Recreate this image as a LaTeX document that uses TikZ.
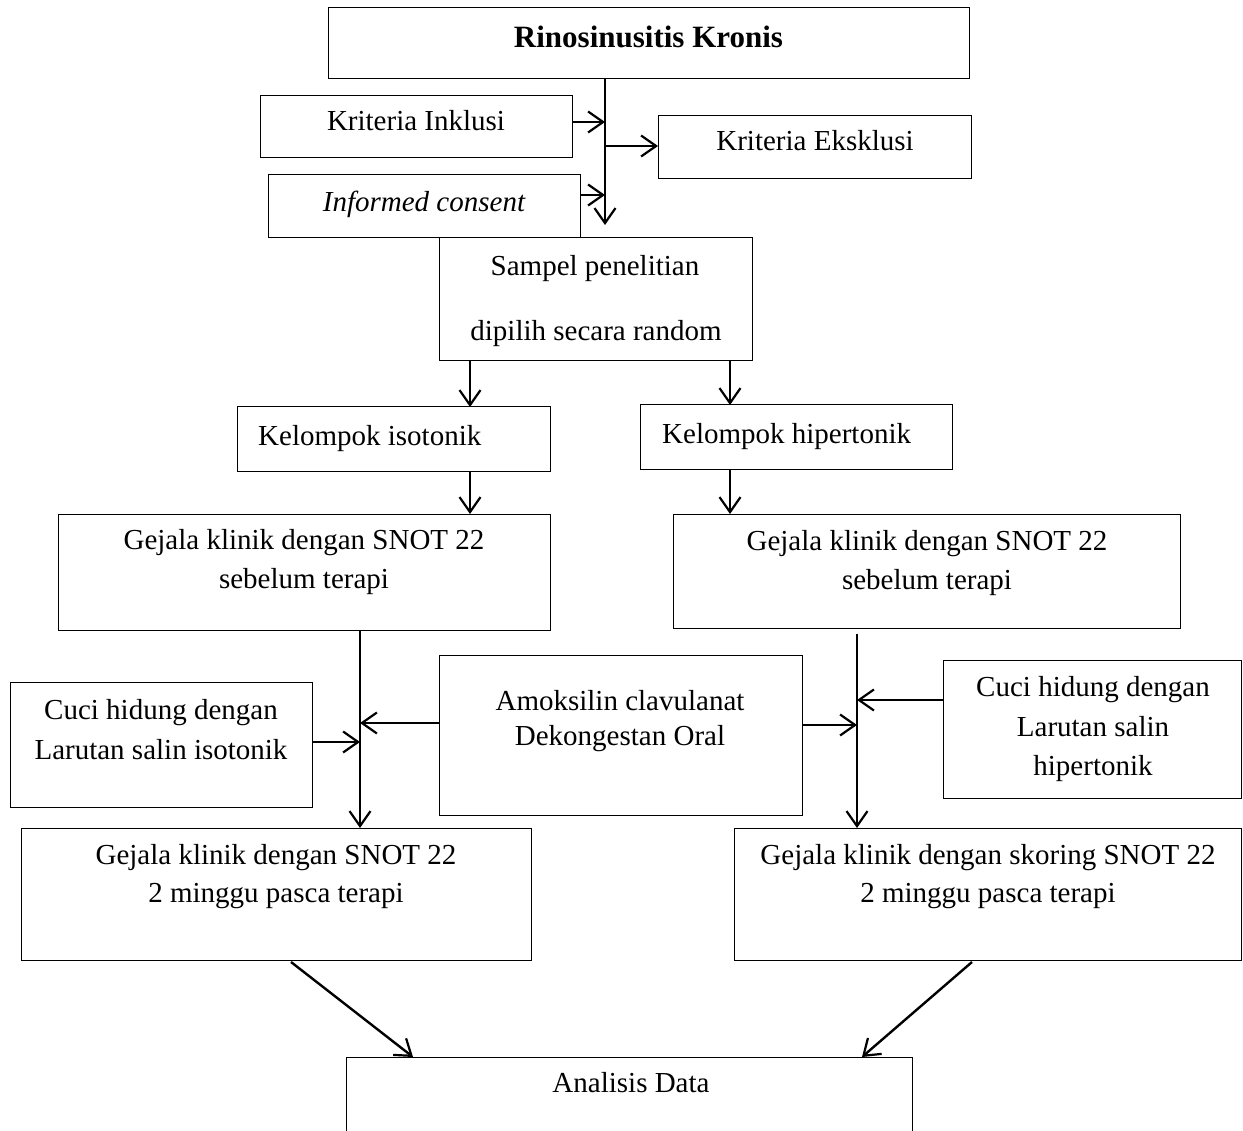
\documentclass[tikz,border=0pt]{standalone}
\usepackage{fontspec}
\setmainfont{Liberation Serif}
\usetikzlibrary{arrows.meta}
\begin{document}
\begin{tikzpicture}[x=1pt,y=-1pt,
  box/.style={draw, line width=1pt, inner sep=0pt, outer sep=0pt},
  txt/.style={anchor=base, inner sep=0pt, font=\fontsize{29}{35}\selectfont},
  txtl/.style={anchor=base west, inner sep=0pt, font=\fontsize{29}{35}\selectfont},
  arr/.style={line width=2.4pt, -{Straight Barb[length=15pt,width=21pt,line width=2.2pt]}}]
\useasboundingbox (0,0) rectangle (1243,1131);
\clip (0,0) rectangle (1243,1131);
% boxes
\node[box, minimum width=641pt, minimum height=71pt] (rk) at (648.5,43.5) {};
\node[box, minimum width=312pt, minimum height=62pt] (ki) at (416,127) {};
\node[box, minimum width=313pt, minimum height=63pt] (ke) at (814.5,147.5) {};
\node[box, minimum width=312pt, minimum height=63pt] (ic) at (424,206.5) {};
\node[box, minimum width=313pt, minimum height=123pt] (sp) at (595.5,299.5) {};
\node[box, minimum width=313pt, minimum height=65pt] (kis) at (393.5,439.5) {};
\node[box, minimum width=312pt, minimum height=65pt] (khp) at (796,437.5) {};
\node[box, minimum width=492pt, minimum height=116pt] (gl1) at (304,572) {};
\node[box, minimum width=507pt, minimum height=114pt] (gr1) at (926.5,571) {};
\node[box, minimum width=363pt, minimum height=160pt] (am) at (620.5,735) {};
\node[box, minimum width=302pt, minimum height=125pt] (cl) at (161,744.5) {};
\node[box, minimum width=298pt, minimum height=138pt] (cr) at (1092,729) {};
\node[box, minimum width=510pt, minimum height=132pt] (gl2) at (276,894) {};
\node[box, minimum width=507pt, minimum height=132pt] (gr2) at (987.5,894) {};
\node[box, minimum width=566pt, minimum height=100pt] (ad) at (629,1107) {};
% texts
\node[txt, font=\fontsize{31}{37}\selectfont\bfseries] (t1) at (648.5,48) {Rinosinusitis Kronis};
\node[txt] (t2) at (416,131) {Kriteria Inklusi};
\node[txt] (t3) at (815,151) {Kriteria Eksklusi};
\node[txt, font=\fontsize{29}{35}\selectfont\itshape] (t4) at (424,212) {Informed consent};
\node[txt] (t5) at (595,276) {Sampel penelitian};
\node[txt] (t6) at (596,341) {dipilih secara random};
\node[txtl] (t7) at (258,446) {Kelompok isotonik};
\node[txtl] (t8) at (662,444) {Kelompok hipertonik};
\node[txt] (t9) at (304,549) {Gejala klinik dengan SNOT 22};
\node[txt] (t10) at (304,588) {sebelum terapi};
\node[txt] (t11) at (927,550) {Gejala klinik dengan SNOT 22};
\node[txt] (t12) at (927,589) {sebelum terapi};
\node[txt] (t13) at (620,710) {Amoksilin clavulanat};
\node[txt] (t14) at (620,745) {Dekongestan Oral};
\node[txt] (t15) at (161,719) {Cuci hidung dengan};
\node[txt] (t16) at (161,759) {Larutan salin isotonik};
\node[txt] (t17) at (1093,696) {Cuci hidung dengan};
\node[txt] (t18) at (1093,736) {Larutan salin};
\node[txt] (t19) at (1093,775) {hipertonik};
\node[txt] (t20) at (276,864) {Gejala klinik dengan SNOT 22};
\node[txt] (t21) at (276,902) {2 minggu pasca terapi};
\node[txt] (t22) at (988,864) {Gejala klinik dengan skoring SNOT 22};
\node[txt] (t23) at (988,902) {2 minggu pasca terapi};
\node[txt] (t24) at (631,1092) {Analisis Data};
% helper coordinates
\coordinate (tr) at (605,225);
\coordinate (ca) at (605,122);
\coordinate (cb) at (605,146);
\coordinate (cc) at (605,195);
\coordinate (xL) at (470,0);
\coordinate (xR) at (730,0);
\coordinate (ll) at (360,0);
\coordinate (rr) at (857,0);
\coordinate (la) at (360,723);
\coordinate (lb) at (360,742);
\coordinate (ra) at (857,725);
\coordinate (rb) at (857,700);
\coordinate (d1) at (291,0);
\coordinate (d2) at (413,0);
\coordinate (d3) at (972,0);
\coordinate (d4) at (862,0);
% connectors
\draw[arr] (rk.south -| tr) -- (tr);
\draw[arr] (ki.east |- ca) -- (ca);
\draw[arr] (cb) -- (ke.west |- cb);
\draw[arr] (ic.east |- cc) -- (cc);
\draw[arr] (sp.south -| xL) -- (kis.north -| xL);
\draw[arr] (sp.south -| xR) -- (khp.north -| xR);
\draw[arr] (kis.south -| xL) -- (gl1.north -| xL);
\draw[arr] (khp.south -| xR) -- (gr1.north -| xR);
\draw[arr] (gl1.south -| ll) -- (gl2.north -| ll);
\draw[arr] ([yshift=-6pt]gr1.south -| rr) -- (gr2.north -| rr);
\draw[arr] (am.west |- la) -- (la);
\draw[arr] (cl.east |- lb) -- (lb);
\draw[arr] (am.east |- ra) -- (ra);
\draw[arr] (cr.west |- rb) -- (rb);
\draw[arr] ([yshift=-2pt]gl2.south -| d1) -- (ad.north -| d2);
\draw[arr] ([yshift=-2pt]gr2.south -| d3) -- (ad.north -| d4);
\end{tikzpicture}
\end{document}
